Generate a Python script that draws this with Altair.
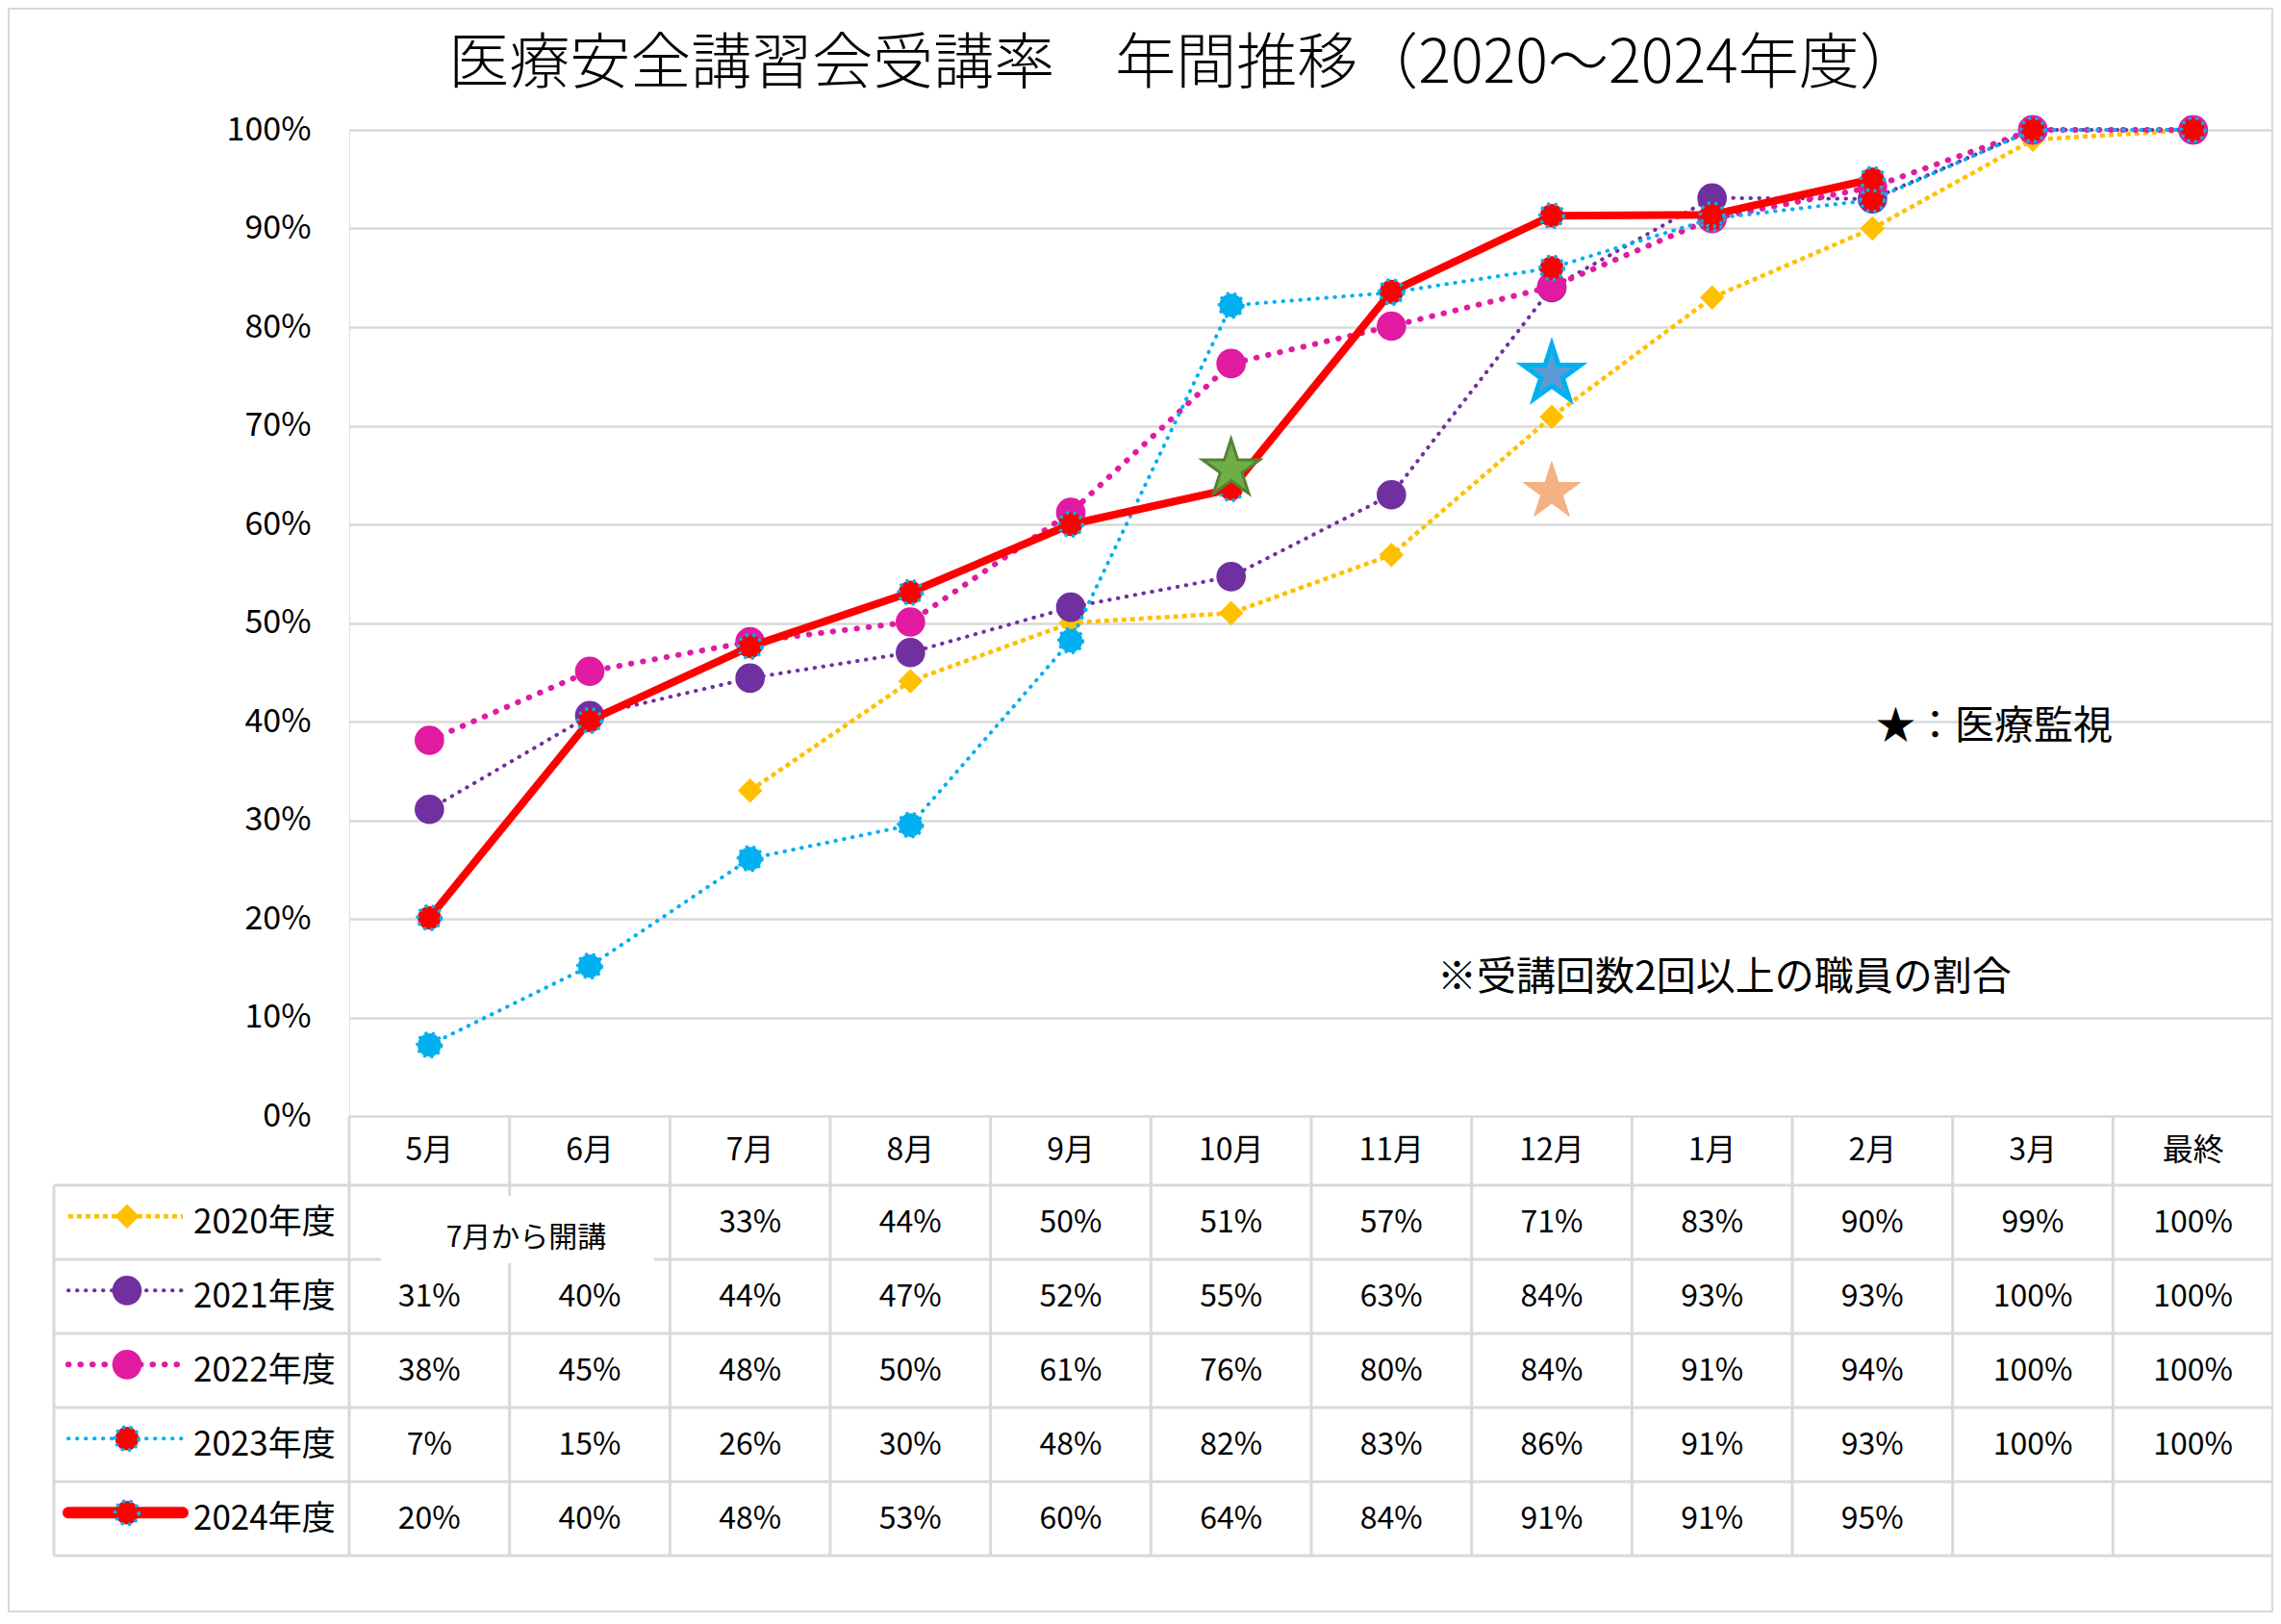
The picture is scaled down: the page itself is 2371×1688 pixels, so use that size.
import altair as alt
import pandas as pd

# ---------------- data ----------------
months = ["5月", "6月", "7月", "8月", "9月", "10月", "11月", "12月", "1月", "2月", "3月", "最終"]
series = ["2020年度", "2021年度", "2022年度", "2023年度", "2024年度"]

v2020 = [None, None, 33.0, 44.1, 50.0, 51.0, 56.9, 70.9, 83.0, 90.0, 99.0, 100.0]
v2021 = [31.1, 40.6, 44.4, 47.0, 51.6, 54.7, 63.0, 84.0, 93.1, 93.0, 100.0, 100.0]
v2022 = [38.1, 45.1, 48.1, 50.1, 61.2, 76.3, 80.1, 84.1, 91.0, 94.2, 100.0, 100.0]
v2023 = [7.2, 15.2, 26.1, 29.5, 48.2, 82.2, 83.5, 86.0, 91.0, 92.9, 100.0, 100.0]
v2024 = [20.1, 40.1, 47.6, 53.1, 60.0, 63.6, 83.6, 91.3, 91.4, 95.0, None, None]

t2020 = ["", "", "33%", "44%", "50%", "51%", "57%", "71%", "83%", "90%", "99%", "100%"]
t2021 = ["31%", "40%", "44%", "47%", "52%", "55%", "63%", "84%", "93%", "93%", "100%", "100%"]
t2022 = ["38%", "45%", "48%", "50%", "61%", "76%", "80%", "84%", "91%", "94%", "100%", "100%"]
t2023 = ["7%", "15%", "26%", "30%", "48%", "82%", "83%", "86%", "91%", "93%", "100%", "100%"]
t2024 = ["20%", "40%", "48%", "53%", "60%", "64%", "84%", "91%", "91%", "95%", "", ""]

star_months = ["10月", "12月", "12月"]
star_values = [65.6, 75.2, 63.3]

title_text = "医療安全講習会受講率　年間推移（2020～2024年度）"
note_2020 = "7月から開講"
star_note = "★：医療監視"
foot_note = "※受講回数2回以上の職員の割合"

values = [v2020, v2021, v2022, v2023, v2024]
texts = [t2020, t2021, t2022, t2023, t2024]

# ---------------- styles / layout ----------------
FONT = "Noto Sans CJK JP"
GRID = "#D9D9D9"
W, H = 2000, 1025
PAD_L, PAD_T, PAD_B = 355, 127, 516
PXX = W / 12.0          # px per column
PXY = H / 100.0         # px per percent
HEADER_H = 72 / PXY
ROW_H = 77 / PXY
TABLE_BOTTOM = -(HEADER_H + 5 * ROW_H)
LEG_LEFT = -307 / PXX

STAR = ("M0,-1L0.2245,-0.309L0.9511,-0.309L0.3633,0.118L0.5878,0.809L0,0.382"
        "L-0.5878,0.809L-0.3633,0.118L-0.9511,-0.309L-0.2245,-0.309Z")

styles = [
    dict(color="#FFC000", w=4.5, dash=[5, 4], cap="butt", shape="diamond", size=650,
         fills=["#FFC000"] * 12, mstroke=None),
    dict(color="#7030A0", w=4, dash=[0.5, 8.5], cap="round", shape="circle", size=940,
         fills=["#7030A0"] * 12, mstroke=None),
    dict(color="#E11BA1", w=6, dash=[0.5, 12], cap="round", shape="circle", size=940,
         fills=["#E11BA1"] * 12, mstroke=None),
    dict(color="#00B0F0", w=4, dash=[0.5, 8.5], cap="round", shape="circle", size=600,
         fills=["#00B0F0"] * 7 + ["#FF0000"] * 5, mstroke="#00B0F0"),
    dict(color="#FF0000", w=8, dash=None, cap="round", shape="circle", size=600,
         fills=["#FF0000"] * 12, mstroke="#00B0F0"),
]
legend_fill = ["#FFC000", "#7030A0", "#E11BA1", "#FF0000", "#FF0000"]

X = alt.X("x:Q", scale=alt.Scale(domain=[0, 12], nice=False, zero=False), axis=None)
Y = alt.Y("y:Q", scale=alt.Scale(domain=[0, 100], nice=False, zero=False),
          axis=alt.Axis(values=list(range(0, 101, 10)), labelExpr="datum.value + '%'",
                        grid=True, gridColor=GRID, gridWidth=2.5, domain=False, ticks=False,
                        labelFontSize=34, labelPadding=40, labelColor="#000000",
                        labelFont=FONT, title=None))


def line_and_points(df, st, line_w=None):
    lkw = dict(color=st["color"], strokeWidth=line_w or st["w"], strokeCap=st["cap"],
               strokeJoin="round")
    if st["dash"]:
        lkw["strokeDash"] = st["dash"]
    line = alt.Chart(df).mark_line(**lkw).encode(x=X, y=Y)
    pkw = dict(shape=st["shape"], size=st["size"], filled=True, opacity=1)
    if st["mstroke"]:
        pkw.update(stroke=st["mstroke"], strokeWidth=3.5, strokeDash=[3, 4.5])
    pts = alt.Chart(df).mark_point(**pkw).encode(
        x=X, y=Y, fill=alt.Fill("fill:N", scale=None))
    return [line, pts]


layers = []

# outer border (at the edges of the drawing)
border = pd.DataFrame({"x": [-(PAD_L - 1) / PXX], "x2": [(W - 1) / PXX],
                       "y": [100 + (PAD_T - 1) / PXY], "y2": [-(PAD_B - 1) / PXY]})
layers.append(alt.Chart(border).mark_rect(fillOpacity=0, stroke=GRID, strokeWidth=2).encode(
    x=X, x2="x2:Q", y=Y, y2="y2:Q"))

# table grid lines
vlines = pd.DataFrame({"x": [float(i) for i in range(13)], "x2": [float(i) for i in range(13)],
                       "y": [0.0] * 13, "y2": [TABLE_BOTTOM] * 13})
vlines = pd.concat([vlines, pd.DataFrame({"x": [LEG_LEFT], "x2": [LEG_LEFT],
                                          "y": [-HEADER_H], "y2": [TABLE_BOTTOM]})])
hy = [-(HEADER_H + k * ROW_H) for k in range(6)]
hlines = pd.DataFrame({"x": [LEG_LEFT] * 6, "x2": [12.0] * 6, "y": hy, "y2": hy})
grid_df = pd.concat([vlines, hlines], ignore_index=True)
layers.append(alt.Chart(grid_df).mark_rule(color=GRID, strokeWidth=3).encode(
    x=X, x2="x2:Q", y=Y, y2="y2:Q"))

# merged-cell white box + note
box = pd.DataFrame({"x": [33 / PXX], "x2": [317 / PXX], "y": [-83 / PXY], "y2": [-153 / PXY]})
layers.append(alt.Chart(box).mark_rect(color="white").encode(x=X, x2="x2:Q", y=Y, y2="y2:Q"))
layers.append(alt.Chart(pd.DataFrame({"x": [184 / PXX], "y": [-127 / PXY], "t": [note_2020]}))
              .mark_text(font=FONT, fontSize=30, color="#000000", align="center", baseline="middle")
              .encode(x=X, y=Y, text="t:N"))

# table text
rows = []
for i, m in enumerate(months):
    rows.append({"x": i + 0.5, "y": -HEADER_H / 2, "t": m})
for r, tt in enumerate(texts):
    yc = -(HEADER_H + ROW_H * (r + 0.5))
    for i, t in enumerate(tt):
        if t:
            rows.append({"x": i + 0.5, "y": yc, "t": t})
layers.append(alt.Chart(pd.DataFrame(rows)).mark_text(
    font=FONT, fontSize=32, color="#000000", align="center", baseline="middle").encode(
    x=X, y=Y, text="t:N"))

# legend column
leg_rows = []
for r, name in enumerate(series):
    yc = -(HEADER_H + ROW_H * (r + 0.5))
    leg_rows.append({"x": -162 / PXX, "y": yc, "t": name})
    ys = yc + 0.6
    st = dict(styles[r])
    df = pd.DataFrame({"x": [-292 / PXX, -173 / PXX], "y": [ys, ys], "fill": [legend_fill[r]] * 2})
    lw = 12 if r == 4 else None
    line, _ = line_and_points(df, st, lw)
    layers.append(line)
    pdf = pd.DataFrame({"x": [-231 / PXX], "y": [ys], "fill": [legend_fill[r]]})
    layers.append(line_and_points(pdf, st)[1])
layers.append(alt.Chart(pd.DataFrame(leg_rows)).mark_text(
    font=FONT, fontSize=35, color="#000000", align="left", baseline="middle").encode(
    x=X, y=Y, text="t:N"))

# series
for r in range(5):
    xs, ys, fs = [], [], []
    for i, v in enumerate(values[r]):
        if v is not None:
            xs.append(i + 0.5)
            ys.append(v)
            fs.append(styles[r]["fills"][i])
    df = pd.DataFrame({"x": xs, "y": ys, "fill": fs})
    layers += line_and_points(df, styles[r])

# stars (medical inspection)
star_df = pd.DataFrame({
    "x": [months.index(m) + 0.5 for m in star_months],
    "y": star_values,
    "fill": ["#70AD47", "#5B9BD5", "#F4B183"],
    "stroke": ["#548235", "#00B0F0", "#F4B183"],
    "sw": [3.0, 5.0, 1.0],
})
layers.append(alt.Chart(star_df).mark_point(shape=STAR, size=3900, filled=True, opacity=1).encode(
    x=X, y=Y, fill=alt.Fill("fill:N", scale=None), stroke=alt.Stroke("stroke:N", scale=None),
    strokeWidth=alt.StrokeWidth("sw:Q", scale=None)))

# annotations
ann = pd.DataFrame({"x": [1587 / PXX, 1131 / PXX], "y": [39.4, 14.0], "t": [star_note, foot_note]})
layers.append(alt.Chart(ann).mark_text(font=FONT, fontSize=41, color="#000000", align="left",
                                       baseline="middle").encode(x=X, y=Y, text="t:N"))

# title
layers.append(alt.Chart(pd.DataFrame({"x": [868 / PXX], "y": [1093 / PXY], "t": [title_text]}))
              .mark_text(font=FONT, fontSize=63, fontWeight=300, color="#000000", align="center",
                         baseline="middle").encode(x=X, y=Y, text="t:N"))

chart = alt.layer(*layers).properties(
    width=W, height=H,
    autosize=alt.AutoSizeParams(type="none"),
    padding={"left": PAD_L, "top": PAD_T, "right": 0, "bottom": PAD_B},
).configure_view(stroke=None).configure(background="white")

chart.save("out.html", embed_options={"renderer": "svg", "actions": False})
